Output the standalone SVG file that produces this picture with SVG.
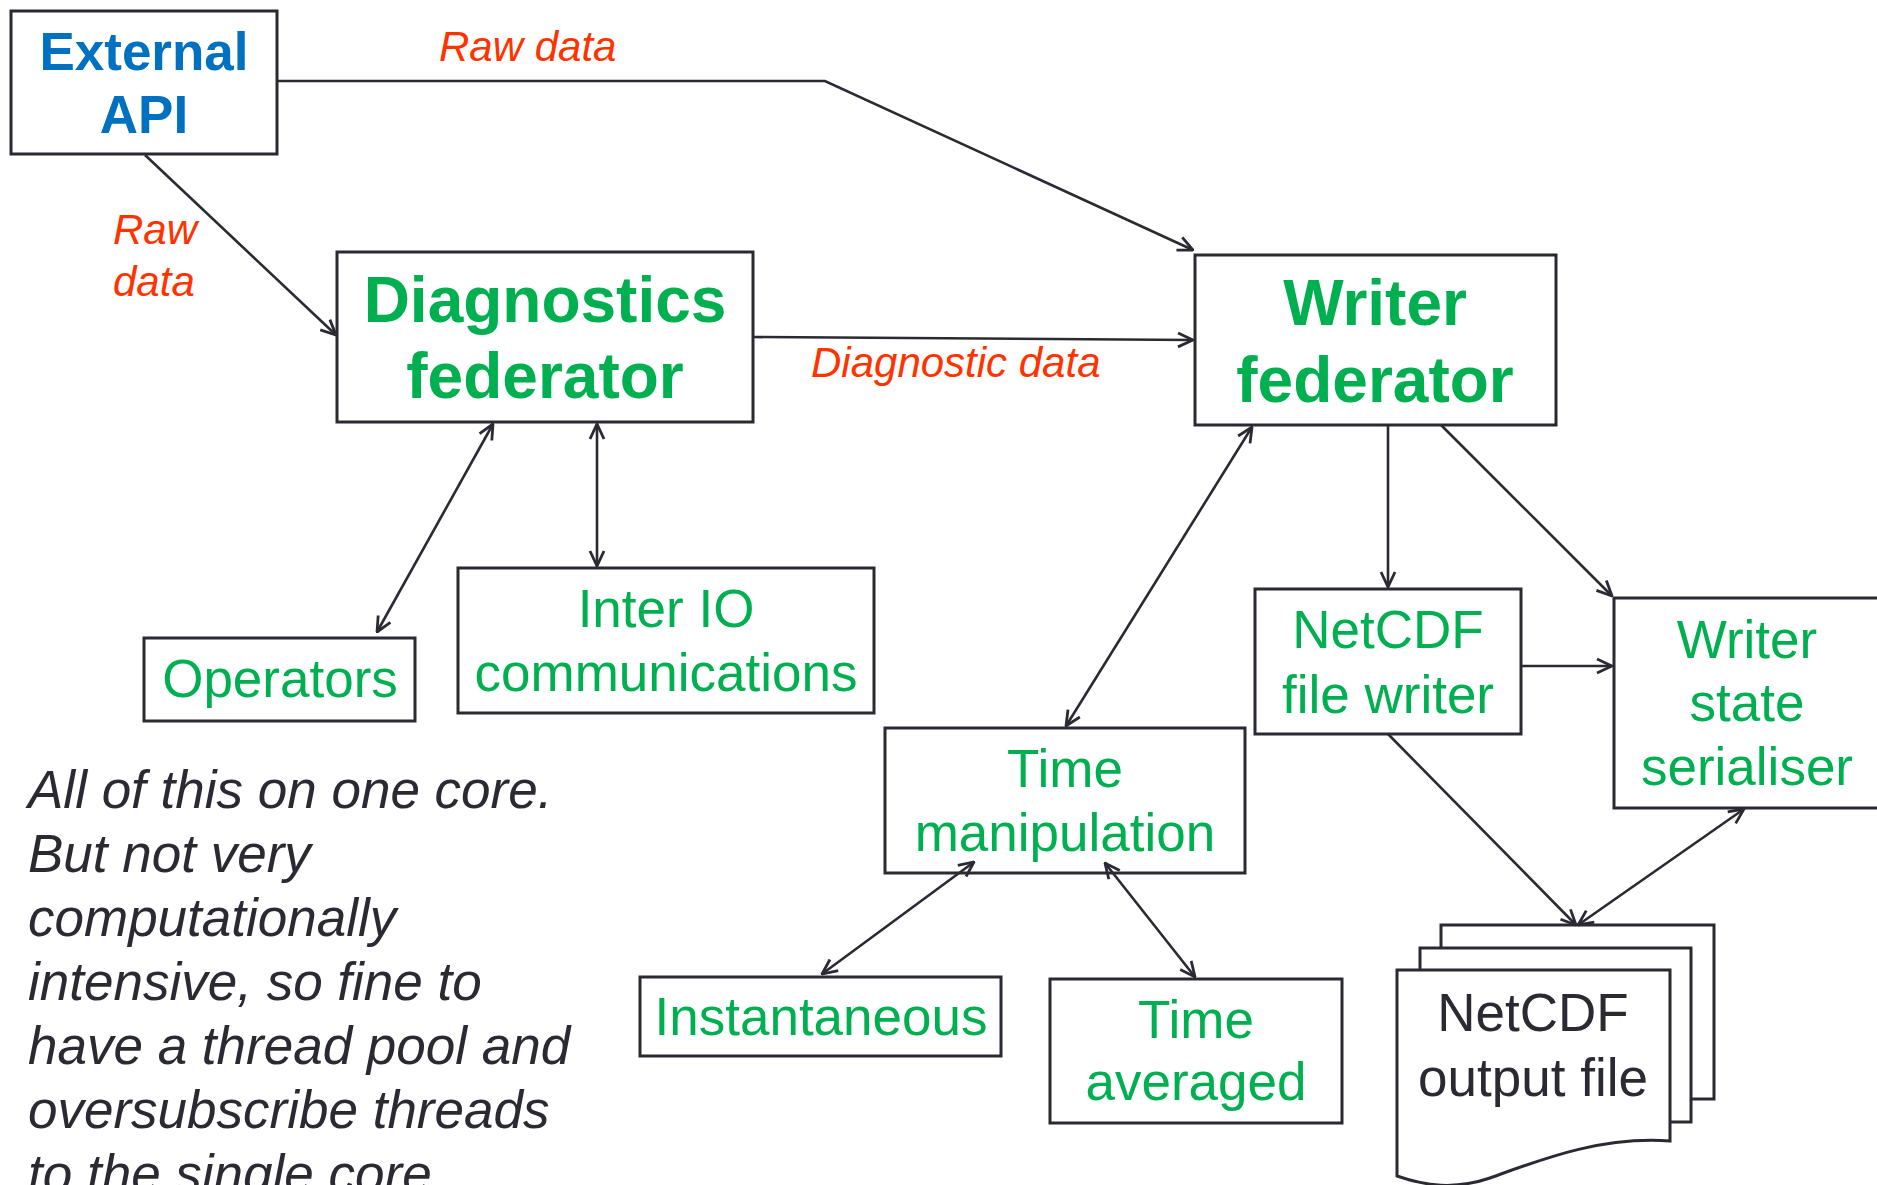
<svg xmlns="http://www.w3.org/2000/svg" width="1877" height="1185" viewBox="0 0 1877 1185">
<style>
.box{fill:#fff;stroke:#2b2a33;stroke-width:3}
.ln{fill:none;stroke:#2b2a33;stroke-width:2.6}
.t{font-family:"Liberation Sans",Arial,sans-serif;text-anchor:middle}
.g{fill:#00b050;font-size:53px}
.gb{fill:#00b050;font-size:64px;font-weight:bold}
.bl{fill:#0070c0;font-size:53px;font-weight:bold}
.red{font-family:"Liberation Sans",Arial,sans-serif;fill:#ff3300;font-size:42px;font-style:italic}
.note{font-family:"Liberation Sans",Arial,sans-serif;fill:#2b2a33;font-size:53px;font-style:italic}
.dk{fill:#2b2a33;font-size:53px}
</style>
<defs>
<marker id="a" viewBox="0 0 18 18" refX="17" refY="9" markerUnits="userSpaceOnUse" markerWidth="18" markerHeight="18" orient="auto-start-reverse">
<path d="M2,2 L17,9 L2,16" fill="none" stroke="#2b2a33" stroke-width="2.8"/>
</marker>
</defs>
<g id="labels">
<text class="red" x="439" y="61">Raw data</text>
<text class="red" x="113" y="244">Raw</text>
<text class="red" x="113" y="296">data</text>
<text class="red" x="811" y="377">Diagnostic data</text>
</g>
<g id="external-api">
<rect class="box" x="11" y="11" width="266" height="143"/>
<text class="t bl" x="144" y="70">External</text>
<text class="t bl" x="144" y="133">API</text>
</g>
<g id="diagnostics-federator">
<rect class="box" x="337" y="252" width="416" height="170"/>
<text class="t gb" x="545" y="322">Diagnostics</text>
<text class="t gb" x="545" y="398">federator</text>
</g>
<g id="writer-federator">
<rect class="box" x="1195" y="255" width="361" height="170"/>
<text class="t gb" x="1375" y="325">Writer</text>
<text class="t gb" x="1375" y="402">federator</text>
</g>
<g id="operators">
<rect class="box" x="144" y="638" width="271" height="83"/>
<text class="t g" x="280" y="697">Operators</text>
</g>
<g id="inter-io">
<rect class="box" x="458" y="568" width="416" height="145"/>
<text class="t g" x="666" y="627">Inter IO</text>
<text class="t g" x="666" y="691">communications</text>
</g>
<g id="netcdf-file-writer">
<rect class="box" x="1255" y="589" width="266" height="145"/>
<text class="t g" x="1388" y="648">NetCDF</text>
<text class="t g" x="1388" y="713">file writer</text>
</g>
<g id="writer-state-serialiser">
<rect class="box" x="1614" y="598" width="275" height="210"/>
<text class="t g" x="1747" y="658">Writer</text>
<text class="t g" x="1747" y="721">state</text>
<text class="t g" x="1747" y="785">serialiser</text>
</g>
<g id="time-manipulation">
<rect class="box" x="885" y="728" width="360" height="145"/>
<text class="t g" x="1065" y="787">Time</text>
<text class="t g" x="1065" y="851">manipulation</text>
</g>
<g id="instantaneous">
<rect class="box" x="640" y="977" width="361" height="79"/>
<text class="t g" x="821" y="1035">Instantaneous</text>
</g>
<g id="time-averaged">
<rect class="box" x="1050" y="979" width="292" height="144"/>
<text class="t g" x="1196" y="1038">Time</text>
<text class="t g" x="1196" y="1100">averaged</text>
</g>
<g id="netcdf-output-file">
<path class="box" d="M1441,948 V925 H1714 V1099 H1691"/>
<path class="box" d="M1420,970 V948 H1691 V1122 H1670"/>
<path class="box" d="M1397,970 H1670 V1141 C1600,1136 1540,1160 1490,1178 C1455,1190 1425,1186 1397,1176 Z"/>
<text class="t dk" x="1533" y="1031">NetCDF</text>
<text class="t dk" x="1533" y="1096">output file</text>
</g>
<g id="note">
<text class="note" x="28" y="808">All of this on one core.</text>
<text class="note" x="28" y="872">But not very</text>
<text class="note" x="28" y="936">computationally</text>
<text class="note" x="28" y="1000">intensive, so fine to</text>
<text class="note" x="28" y="1064">have a thread pool and</text>
<text class="note" x="28" y="1128">oversubscribe threads</text>
<text class="note" x="28" y="1192">to the single core.</text>
</g>
<g id="connectors">
<polyline class="ln" points="277,81 825,81 1193,250" marker-end="url(#a)"/>
<line class="ln" x1="145" y1="155" x2="336" y2="335" marker-end="url(#a)"/>
<line class="ln" x1="753" y1="337" x2="1193" y2="340" marker-end="url(#a)"/>
<line class="ln" x1="493" y1="424" x2="377" y2="632" marker-start="url(#a)" marker-end="url(#a)"/>
<line class="ln" x1="597" y1="424" x2="597" y2="566" marker-start="url(#a)" marker-end="url(#a)"/>
<line class="ln" x1="1252" y1="427" x2="1066" y2="726" marker-start="url(#a)" marker-end="url(#a)"/>
<line class="ln" x1="1388" y1="425" x2="1388" y2="587" marker-end="url(#a)"/>
<line class="ln" x1="1441" y1="425" x2="1612" y2="596" marker-end="url(#a)"/>
<line class="ln" x1="1521" y1="666" x2="1612" y2="666" marker-end="url(#a)"/>
<line class="ln" x1="1388" y1="734" x2="1576" y2="925" marker-end="url(#a)"/>
<line class="ln" x1="1744" y1="809" x2="1578" y2="925" marker-start="url(#a)" marker-end="url(#a)"/>
<line class="ln" x1="974" y1="862" x2="822" y2="974" marker-start="url(#a)" marker-end="url(#a)"/>
<line class="ln" x1="1105" y1="863" x2="1195" y2="977" marker-start="url(#a)" marker-end="url(#a)"/>
</g>
</svg>
